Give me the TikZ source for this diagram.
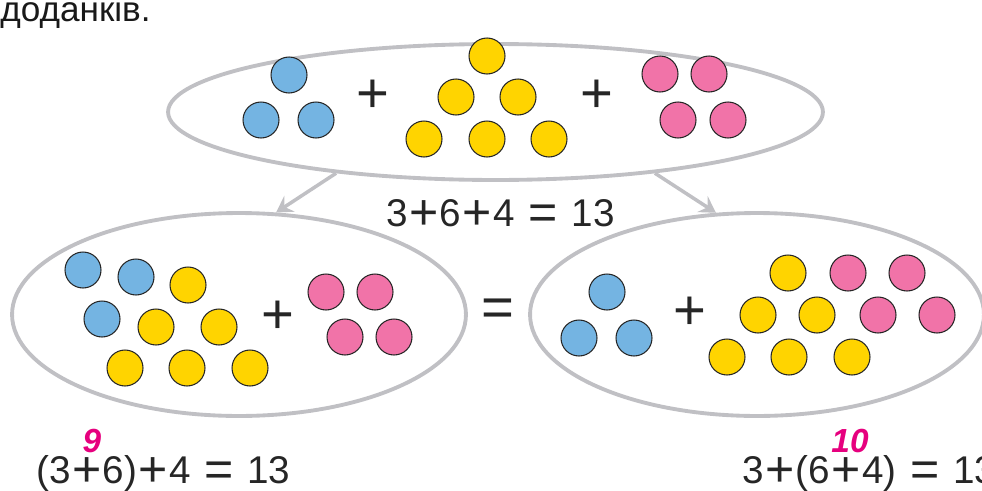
\documentclass[tikz,border=0pt]{standalone}
\usepackage{fontspec}
\setmainfont{Liberation Sans}
\usetikzlibrary{arrows.meta,shapes.geometric}

\definecolor{dotblue}{HTML}{74B4E2}
\definecolor{dotyellow}{HTML}{FFD400}
\definecolor{dotpink}{HTML}{F173A8}
\definecolor{ovalgray}{HTML}{C0C0C4}
\definecolor{sumpink}{HTML}{E6007E}

% larger operator signs inside the equations
\newcommand{\opsign}[1]{\kern0.8pt\raisebox{-2pt}{\fontsize{28.5}{28.5}\selectfont #1}\kern0.8pt}

\begin{document}
\begin{tikzpicture}[x=0.02cm, y=-0.02cm,
    oval/.style={ellipse, draw=ovalgray, line width=2.2pt, inner sep=0pt},
    dot/.style={circle, draw=black!85, line width=0.6pt, minimum size=0.72cm, inner sep=0pt},
    bdot/.style={dot, fill=dotblue},
    ydot/.style={dot, fill=dotyellow},
    pdot/.style={dot, fill=dotpink},
    sign/.style={font=\fontsize{32}{32}\selectfont, text=black!85, inner sep=0pt},
    eqn/.style={font=\fontsize{22}{22}\selectfont, text=black!85, inner sep=0pt, anchor=base west},
    part/.style={font=\fontsize{19}{19}\selectfont\bfseries\itshape, text=sumpink, inner sep=0pt},
    arr/.style={draw=ovalgray, line width=2pt, -{Stealth[length=3.2mm, width=3.8mm, inset=1.2mm]}}
    ]
    \useasboundingbox (0,0) rectangle (982,490);

    \node[font=\fontsize{20}{20}\selectfont, text=black!90, anchor=base west, inner sep=0pt] (title) at (0,21) {доданків.};

    % top: 3 + 6 + 4
    \node[oval, minimum width=13.1cm, minimum height=2.72cm] (top) at (495.5,112) {};
    \foreach \x/\y [count=\i] in {289/75, 261/120, 316/120}
        \node[bdot] (tb\i) at (\x,\y) {};
    \foreach \x/\y [count=\i] in {487/56, 456/97, 518/97, 424/139, 487/139, 549/139}
        \node[ydot] (ty\i) at (\x,\y) {};
    \foreach \x/\y [count=\i] in {660/74, 709/74, 678/120, 728/120}
        \node[pdot] (tp\i) at (\x,\y) {};
    \node[sign] (tplus1) at (372.5,96) {+};
    \node[sign] (tplus2) at (597,96) {+};
    \node[eqn] (sum) at (386,226) {3\opsign{+}6\opsign{+}4\hspace{7pt}\opsign{=}\hspace{7pt}13};

    % left: (3 + 6) + 4
    \node[oval, minimum width=9.08cm, minimum height=4.06cm] (left) at (239,314.5) {};
    \foreach \x/\y [count=\i] in {83/270, 136/277, 102/319}
        \node[bdot] (lb\i) at (\x,\y) {};
    \foreach \x/\y [count=\i] in {188/285, 156/327, 219/327, 125/368, 187/368, 250/368}
        \node[ydot] (ly\i) at (\x,\y) {};
    \foreach \x/\y [count=\i] in {326/292, 375/292, 345/337, 394/337}
        \node[pdot] (lp\i) at (\x,\y) {};
    \node[sign] (lplus) at (278,317) {+};

    \node[sign] (equal) at (498,313) {=};

    % right: 3 + (6 + 4)
    \node[oval, minimum width=9.08cm, minimum height=4.06cm] (right) at (757,314.5) {};
    \foreach \x/\y [count=\i] in {607/292, 579/338, 634/338}
        \node[bdot] (rb\i) at (\x,\y) {};
    \foreach \x/\y [count=\i] in {788/273, 758/315, 817/315, 727/357, 789/357, 852/357}
        \node[ydot] (ry\i) at (\x,\y) {};
    \foreach \x/\y [count=\i] in {848/273, 907/273, 878/315, 937/315}
        \node[pdot] (rp\i) at (\x,\y) {};
    \node[sign] (rplus) at (690,313) {+};

    \draw[arr] (top.201) -- (left.70);
    \draw[arr] (top.339) -- (right.112);

    \node[eqn] (lsum) at (36,483) {(3\opsign{+}6)\opsign{+}4\hspace{7pt}\opsign{=}\hspace{7pt}13};
    \node[part] (nine) at (92,441) {9};
    \node[eqn] (rsum) at (742,483) {3\opsign{+}(6\opsign{+}4)\hspace{7pt}\opsign{=}\hspace{7pt}13};
    \node[part] (ten) at (850,441) {10};
\end{tikzpicture}
\end{document}
